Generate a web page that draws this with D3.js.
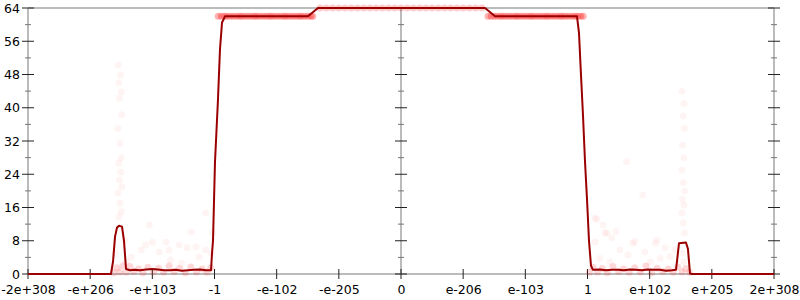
<!DOCTYPE html>
<html><head><meta charset="utf-8">
<script src="https://cdn.jsdelivr.net/npm/d3@7"></script>
<style>body{margin:0;background:#fff}svg{display:block}text{font-family:"DejaVu Sans",sans-serif;font-size:12.5px;fill:#000}</style>
</head><body><svg id="c" width="800" height="300"></svg>
<script>
// x in "position" units (one unit per labelled tick), y in bits
const xTickValues = [-6,-5,-4,-3,-2,-1,0,1,2,3,4,5,6];
const xTickLabels = ["-2e+308","-e+206","-e+103","-1","-e-102","-e-205","0","e-206","e-103","1","e+102","e+205","2e+308"];
const yMajorTicks = [0,8,16,24,32,40,48,56,64];
const yMinorTicks = [4,12,20,28,36,44,52,60];

// median line
const lineX = [-6,-4.665,-4.632,-4.600,-4.568,-4.536,-4.488,-4.456,-4.423,-4.359,-4.279,-4.198,-4.102,-4.005,-3.909,-3.812,-3.716,-3.619,-3.523,-3.426,-3.330,-3.233,-3.137,-3.056,-3.040,-3.024,-2.992,-2.944,-2.912,-2.879,-2.831,-1.496,-1.335,1.351,1.512,2.831,2.863,2.895,2.928,2.960,2.992,3.024,3.056,3.088,3.201,3.297,3.394,3.490,3.587,3.683,3.780,3.876,3.973,4.070,4.166,4.262,4.359,4.423,4.439,4.472,4.584,4.616,4.649,4.681,6];
const lineY = [0,0,3,9,11.2,11.6,11.4,8,1.2,0.9,1.0,0.9,1.1,1.2,1.1,0.9,0.9,1.0,0.8,0.9,1.0,1.1,0.9,0.9,5,8,27,42,54,60.5,62,62,64,64,62,62,58,48,38,27,18,8,2,1,1.1,0.9,1.0,1.0,0.9,1.1,1.0,0.9,1.1,1.0,1.0,0.8,0.9,1.0,3,7.4,7.6,6,0.1,0,0];

// dense sample bands
const band62X = [-2.94,-2.89,-2.84,-2.80,-2.75,-2.70,-2.65,-2.60,-2.56,-2.51,-2.46,-2.41,-2.36,-2.32,-2.27,-2.22,-2.17,-2.12,-2.08,-2.03,-1.98,-1.93,-1.88,-1.84,-1.79,-1.74,-1.69,-1.64,-1.60,-1.55,-1.50,-1.45,-1.42,
  1.40,1.45,1.50,1.55,1.60,1.64,1.69,1.74,1.79,1.84,1.88,1.93,1.98,2.03,2.08,2.12,2.17,2.22,2.27,2.32,2.36,2.41,2.46,2.51,2.56,2.60,2.65,2.70,2.75,2.80,2.84,2.89,2.93];
const band64X = [-1.3,-1.2,-1.1,-1.0,-0.9,-0.8,-0.7,-0.6,-0.5,-0.4,-0.3,-0.2,-0.1,0,0.1,0.2,0.3,0.4,0.5,0.6,0.7,0.8,0.9,1.0,1.1,1.2,1.3];
const baseX = [-4.62,-4.57,-4.52,-4.47,-4.42,-4.36,-4.30,-4.22,-4.15,-4.07,-3.98,-3.90,-3.82,-3.73,-3.65,-3.56,-3.47,-3.38,-3.29,-3.20,-3.12,-3.06,
  3.03,3.09,3.16,3.24,3.32,3.41,3.50,3.58,3.67,3.76,3.85,3.94,4.03,4.12,4.21,4.30,4.38,4.45,4.52,4.58,4.64];
const baseY = [0.3,1.5,0.5,2,0.4,1.8,0.6,1.2,0.3,1.6,0.5,1.4,0.4,1.9,0.6,1.3,0.3,1.7,0.5,1.2,0.4,1.5,
  0.4,1.6,0.5,1.3,0.3,1.8,0.6,1.2,0.4,1.5,0.5,1.9,0.3,1.4,0.6,1.2,0.4,1.7,0.5,1.3,0.4];

// scattered samples
const scatterX = [
 -4.55,-4.51,-4.54,-4.50,-4.53,-4.49,-4.55,-4.52,-4.50,-4.54,-4.51,-4.53,-4.49,-4.55,-4.52,-4.50,-4.54,
 -4.05,-4.00,-4.11,-4.18,-3.89,-3.78,-3.73,-3.57,-3.44,-3.30,-3.25,-3.38,-3.14,-3.14,-4.34,-4.42,-3.71,-3.53,-4.60,-4.44,-3.05,-3.03,
 4.52,4.55,4.54,4.56,4.53,4.55,4.52,4.54,4.56,4.53,4.55,4.52,4.54,4.56,4.53,4.55,
 3.12,3.25,3.31,3.46,3.76,4.12,4.09,3.15,3.28,3.39,3.12,3.73,3.89,3.63,3.52,3.65,3.92,4.25,4.33,3.20,3.36,4.01,4.17,4.41];
const scatterY = [
 50.3,47.9,46,43.8,42.3,38.3,35,31.5,28,26.7,24.5,22.6,21,19.5,17,15,13.7,
 11.8,7.7,7,5.8,5.3,7.7,5.8,7,6.3,6.5,4.1,10.1,14.7,5.8,4.1,2.9,3.4,2.6,5,8,5,10,
 44,41,38,35,31,28,25,22,20,18,16.6,14.7,12.3,9.9,5,3,
 13.5,11.8,9.8,10.3,7.9,8.2,7.4,13.2,9.9,8.7,7.7,7.4,19,27,5.8,4.6,5.3,6.3,4.3,3.8,2.9,2.9,3.8,5.8];

const svg = d3.select("#c");
const x = d3.scaleLinear().domain([-6,6]).range([28,774]);
const y = d3.scaleLinear().domain([0,64]).range([274,8]);

// frame lines
const g = svg.append("g");
[0,64].forEach(v=>g.append("line").attr("x1",x(-6)).attr("x2",x(6)).attr("y1",y(v)).attr("y2",y(v)).attr("stroke","#bbb").attr("stroke-width",2));
[-6,0,6].forEach(v=>g.append("line").attr("x1",x(v)).attr("x2",x(v)).attr("y1",y(0)).attr("y2",y(64)).attr("stroke","#bbb").attr("stroke-width",2));

// y ticks on three vertical axes
[-6,0,6].forEach(v=>{
  yMinorTicks.forEach(t=>g.append("line").attr("x1",x(v)-3).attr("x2",x(v)+3).attr("y1",y(t)).attr("y2",y(t)).attr("stroke","#777").attr("stroke-width",1));
  yMajorTicks.forEach(t=>g.append("line").attr("x1",x(v)-6).attr("x2",x(v)+6).attr("y1",y(t)).attr("y2",y(t)).attr("stroke","#222").attr("stroke-width",1));
});
// x ticks
xTickValues.forEach(t=>g.append("line").attr("x1",x(t)).attr("x2",x(t)).attr("y1",y(0)-5).attr("y2",y(0)+5).attr("stroke","#222").attr("stroke-width",1));

// labels
const ya = svg.append("g").attr("transform",`translate(${x(-6)},0)`).call(d3.axisLeft(y).tickValues(yMajorTicks).tickSize(0).tickPadding(8));
const xa = svg.append("g").attr("transform",`translate(0,${y(0)})`).call(d3.axisBottom(x).tickValues(xTickValues).tickSize(0).tickPadding(11).tickFormat((d,i)=>xTickLabels[i]));
[ya,xa].forEach(a=>{a.select(".domain").remove();a.selectAll("text").attr("font-family","DejaVu Sans").attr("font-size","12.5px").attr("fill","#000");});

// samples
const dots = svg.append("g").attr("fill","#f00");
dots.selectAll(".s").data(scatterX.map((d,i)=>[d,scatterY[i]])).join("circle").attr("cx",d=>x(d[0])).attr("cy",d=>y(d[1])).attr("r",3.5).attr("fill-opacity",0.045);
dots.selectAll(".b").data(baseX.map((d,i)=>[d,baseY[i]])).join("circle").attr("cx",d=>x(d[0])).attr("cy",d=>y(d[1])).attr("r",3.5).attr("fill-opacity",0.15);
dots.selectAll(".b62").data(band62X).join("circle").attr("cx",d=>x(d)).attr("cy",y(62)).attr("r",3.5).attr("fill-opacity",0.3);
dots.selectAll(".b64").data(band64X).join("circle").attr("cx",d=>x(d)).attr("cy",y(64)).attr("r",3.5).attr("fill-opacity",0.2);

// line
svg.append("path").datum(lineX.map((d,i)=>[d,lineY[i]]))
  .attr("d",d3.line().x(d=>x(d[0])).y(d=>y(d[1])))
  .attr("fill","none").attr("stroke","#9a0000").attr("stroke-width",2).attr("stroke-linejoin","round");
</script></body></html>
